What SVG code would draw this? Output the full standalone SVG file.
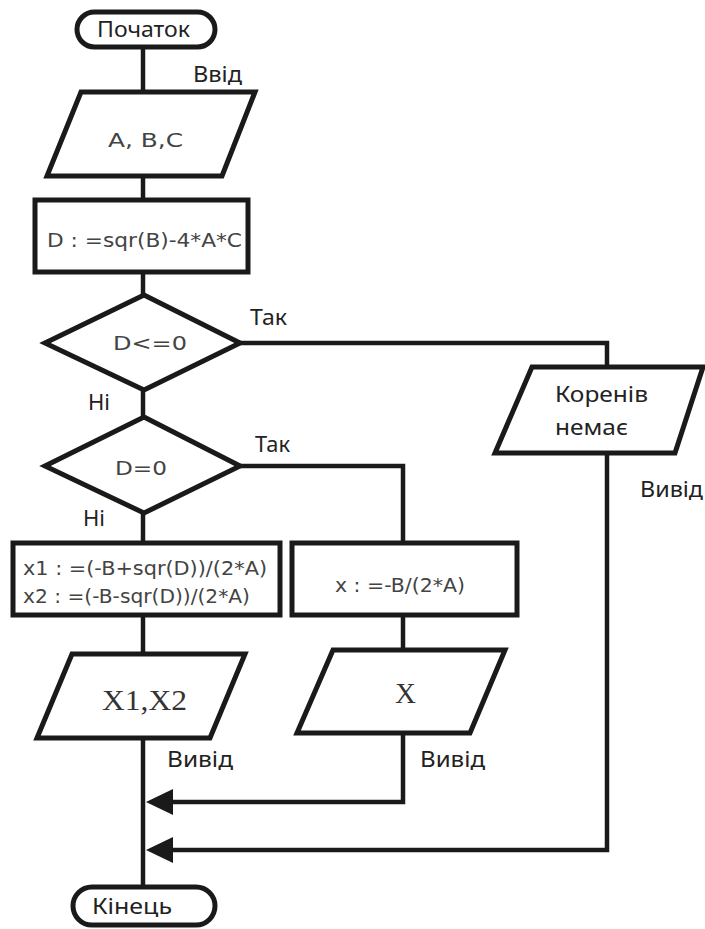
<svg xmlns="http://www.w3.org/2000/svg" width="705" height="929" viewBox="0 0 705 929">
<style>
.sh{fill:#fff;stroke:#1a1a1a;stroke-width:5;stroke-linejoin:miter}
.ln{fill:none;stroke:#1a1a1a;stroke-width:4.5}
.lb{font-family:"Noto Sans","Open Sans",sans-serif;font-size:21px;fill:#222}
.geo{font-family:"DejaVu Sans","Liberation Sans",sans-serif;font-size:20px;fill:#444}
.ser{font-family:"Liberation Serif","Times New Roman",serif;font-size:29px;fill:#333}
</style>
<defs>
<marker id="ah" viewBox="0 0 27 26" refX="13" refY="13" markerWidth="27" markerHeight="26" markerUnits="userSpaceOnUse" orient="auto">
<path d="M0,0 L27,13 L0,26 z" fill="#1a1a1a"/>
</marker>
</defs>
<g id="connectors">
<path class="ln" d="M143,47 V92"/>
<path class="ln" d="M143,176 V200"/>
<path class="ln" d="M143,272 V295"/>
<path class="ln" d="M143,390 V417"/>
<path class="ln" d="M143,513 V543"/>
<path class="ln" d="M143,615 V654"/>
<path class="ln" d="M143,738 V887"/>
<path class="ln" d="M240,343 H607 V367"/>
<path class="ln" d="M607,453 V850 H160" marker-end="url(#ah)"/>
<path class="ln" d="M240,466 H403 V543"/>
<path class="ln" d="M403,615 V650"/>
<path class="ln" d="M403,733 V802 H160" marker-end="url(#ah)"/>
<text class="lb" x="193" y="82" textLength="49" lengthAdjust="spacingAndGlyphs">Ввід</text>
<text class="lb" x="250" y="325" textLength="37" lengthAdjust="spacingAndGlyphs">Так</text>
<text class="lb" x="88" y="410" textLength="22" lengthAdjust="spacingAndGlyphs">Ні</text>
<text class="lb" x="255" y="452" textLength="35" lengthAdjust="spacingAndGlyphs">Так</text>
<text class="lb" x="83" y="526" textLength="22" lengthAdjust="spacingAndGlyphs">Ні</text>
<text class="lb" x="640" y="497" textLength="63" lengthAdjust="spacingAndGlyphs">Вивід</text>
<text class="lb" x="167" y="767" textLength="66" lengthAdjust="spacingAndGlyphs">Вивід</text>
<text class="lb" x="420" y="767" textLength="65" lengthAdjust="spacingAndGlyphs">Вивід</text>
</g>
<g id="start">
<rect class="sh" x="77" y="12" width="138" height="35" rx="17.5"/>
<text class="lb" x="97" y="37" textLength="93" lengthAdjust="spacingAndGlyphs">Початок</text>
</g>
<g id="input-abc">
<polygon class="sh" points="81,92 255,92 222,176 47,176"/>
<text class="geo" x="108" y="147" font-size="23" textLength="75" lengthAdjust="spacingAndGlyphs">A, B,C</text>
</g>
<g id="calc-d">
<rect class="sh" x="35" y="200" width="213" height="72"/>
<text class="geo" x="47" y="247" font-size="21" textLength="195" lengthAdjust="spacingAndGlyphs">D : =sqr(B)-4*A*C</text>
</g>
<g id="cond-d-le-0">
<polygon class="sh" points="144,295 240,343 144,390 45,343"/>
<text class="geo" x="113" y="350" font-size="23" textLength="74" lengthAdjust="spacingAndGlyphs">D&lt;=0</text>
</g>
<g id="cond-d-eq-0">
<polygon class="sh" points="144,417 240,466 144,513 45,466"/>
<text class="geo" x="115" y="475" font-size="23" textLength="52" lengthAdjust="spacingAndGlyphs">D=0</text>
</g>
<g id="out-no-roots">
<polygon class="sh" points="532,367 703,367 675,453 495,453"/>
<text class="lb" x="555" y="402" textLength="93" lengthAdjust="spacingAndGlyphs">Коренів</text>
<text class="lb" x="555" y="435" textLength="73" lengthAdjust="spacingAndGlyphs">немає</text>
</g>
<g id="calc-x1x2">
<rect class="sh" x="13" y="543" width="267" height="72"/>
<text class="geo" x="23" y="575" font-size="21" textLength="244" lengthAdjust="spacingAndGlyphs">x1 : =(-B+sqr(D))/(2*A)</text>
<text class="geo" x="23" y="603" font-size="21" textLength="227" lengthAdjust="spacingAndGlyphs">x2 : =(-B-sqr(D))/(2*A)</text>
</g>
<g id="calc-x">
<rect class="sh" x="292" y="543" width="225" height="72"/>
<text class="geo" x="335" y="592" font-size="21" textLength="130" lengthAdjust="spacingAndGlyphs">x : =-B/(2*A)</text>
</g>
<g id="out-x1x2">
<polygon class="sh" points="72,654 245,654 210,738 37,738"/>
<text class="ser" x="102" y="710" textLength="85" lengthAdjust="spacingAndGlyphs">X1,X2</text>
</g>
<g id="out-x">
<polygon class="sh" points="333,650 505,650 470,733 297,733"/>
<text class="ser" x="395" y="703">X</text>
</g>
<g id="end">
<rect class="sh" x="73" y="887" width="142" height="38" rx="19"/>
<text class="lb" x="92" y="914" textLength="80" lengthAdjust="spacingAndGlyphs">Кінець</text>
</g>
</svg>
